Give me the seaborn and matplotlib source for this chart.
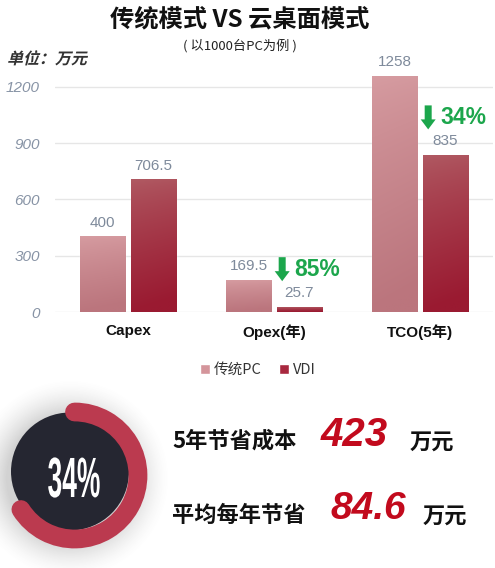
import numpy as np
import pandas as pd
import matplotlib
matplotlib.use("Agg")
import matplotlib.pyplot as plt
from matplotlib.patches import Arc, Circle, FancyArrow
from matplotlib.patheffects import AbstractPathEffect
from matplotlib.transforms import Affine2D
from matplotlib.colors import to_rgb
import seaborn as sns

# ---- data ----
categories = ["Capex", "Opex(年)", "TCO(5年)"]
series = ["传统PC", "VDI"]
pc_values = [400, 169.5, 1258]
vdi_values = [706.5, 25.7, 835]
y_ticks = [0, 300, 600, 900, 1200]
total_saving = 423        # 万元 over 5 years
yearly_saving = 84.6      # 万元 per year
tco_cut_pct = 34          # % reduction of TCO

# ---- style ----
sns.set_theme(style="white")
plt.rcParams["font.family"] = ["Liberation Sans", "Noto Sans CJK SC", "DejaVu Sans"]
CJK = ["Noto Sans CJK SC", "DejaVu Sans"]

PC_TOP, PC_BOT = "#d69ca1", "#bb757d"
VDI_TOP, VDI_BOT = "#b05962", "#9a1a31"
GREEN = "#1ca64c"
LABEL_GRAY = "#7e8a9b"
TICK_GRAY = "#8793a5"
RED = "#c20a1d"


class GlyphTransform(AbstractPathEffect):
    """Apply an affine (scale / skew) to glyph outlines about the baseline origin."""

    def __init__(self, tr):
        super().__init__()
        self.tr = tr

    def draw_path(self, renderer, gc, tpath, affine, rgbFace=None):
        renderer.draw_path(gc, tpath, self.tr + affine, rgbFace)


W, H = 495, 568
fig = plt.figure(figsize=(W / 100, H / 100), dpi=100)
fig.patch.set_facecolor("white")

ax = fig.add_axes([55 / W, 1 - 312 / H, (493 - 55) / W, (312 - 65) / H])

df = pd.DataFrame({
    "category": categories * 2,
    "series": [series[0]] * 3 + [series[1]] * 3,
    "value": pc_values + vdi_values,
})
sns.barplot(data=df, x="category", y="value", hue="series",
            palette=["#d4959b", "#a8283f"], width=0.69, gap=0.1,
            ax=ax, legend=True, saturation=1, errorbar=None)

# vertical gradient fill on each bar
def gradient_img(top, bot, n=64):
    t = np.linspace(0, 1, n)[:, None, None] ** 0.8
    xs = np.linspace(0, 1, 8)[None, :, None]
    t = np.clip(t + 0.08 * xs, 0, 1)
    a, b = np.array(to_rgb(top)), np.array(to_rgb(bot))
    return a + (b - a) * t

grads = [gradient_img(PC_TOP, PC_BOT), gradient_img(VDI_TOP, VDI_BOT)]
for cont, g in zip(ax.containers, grads):
    for rect in cont:
        x0, y0 = rect.get_x(), rect.get_y()
        w, h = rect.get_width(), rect.get_height()
        ax.imshow(g, extent=[x0, x0 + w, y0, y0 + h], aspect="auto",
                  origin="upper", interpolation="bilinear",
                  zorder=rect.get_zorder() + 0.1)
    ax.bar_label(cont, labels=[f"{v:g}" for v in cont.datavalues],
                 padding=5, fontsize=11, color=LABEL_GRAY)

ax.set_xlim(-0.5, 2.5)
ax.set_ylim(0, 1317)
ax.set_yticks(y_ticks)
ax.set_yticklabels([str(v) for v in y_ticks], fontstyle="italic",
                   color=TICK_GRAY, fontsize=11)
ax.set_xticks(range(len(categories)))
ax.set_xticklabels(categories, fontweight="bold", fontsize=11, color="#111111")
ax.tick_params(axis="y", length=0, pad=11)
ax.tick_params(axis="x", length=0, pad=9)
ax.set_xlabel("")
ax.set_ylabel("")
ax.yaxis.grid(True, color="#e6e6e6", lw=1)
ax.set_axisbelow(True)
for s in ax.spines.values():
    s.set_visible(False)
ax.patch.set_alpha(0)

# legend
handles, labels = ax.get_legend_handles_labels()
ax.legend(handles, labels, loc="center", bbox_to_anchor=(258 / W, 1 - 370 / H),
          bbox_transform=fig.transFigure, ncol=2, frameon=False,
          handlelength=0.65, handleheight=0.65, handletextpad=0.3,
          columnspacing=1.2, prop={"family": CJK, "size": 10.5})
for t in ax.get_legend().get_texts():
    t.set_color("#333333")

# ---- overlay in pixel coordinates ----
ov = fig.add_axes([0, 0, 1, 1], zorder=5)
ov.set_axis_off()
ov.patch.set_alpha(0)

def Y(y):
    return H - y

# reduction markers above the VDI bars
fig.canvas.draw()
to_px = ax.transData
for i in (1, 2):
    pc, vdi = pc_values[i], vdi_values[i]
    pct = round((1 - vdi / pc) * 100)
    rect = ax.containers[1][i]
    cx, top = to_px.transform((rect.get_x() + rect.get_width() / 2, vdi))
    yc = top + 38
    ov.add_patch(FancyArrow(cx - 17, yc + 12, 0, -24, width=7,
                            head_width=15, head_length=10,
                            length_includes_head=True, color=GREEN, lw=0))
    ov.text(cx - 5, yc, f"{pct}%", color=GREEN, fontsize=16.5,
            fontweight="bold", ha="left", va="center")

# titles
ov.text(240, Y(19), "传统模式 VS 云桌面模式", family=CJK, fontsize=17.5,
        fontweight="bold", ha="center", va="center", color="#111111")
ov.text(240, Y(46), "( 以1000台PC为例 )", family=CJK, fontsize=9.5,
        ha="center", va="center", color="#222222")
ov.text(7, Y(64), "单位：万元", family=CJK, fontsize=11.5, fontweight="bold",
        ha="left", va="baseline", color="#333333",
        path_effects=[GlyphTransform(Affine2D().skew_deg(14, 0))])

# donut badge with soft shadow
cx, cy = 72, Y(474)
n = 240
yy, xx = np.mgrid[0:n, 0:n]
d = np.hypot(xx - n / 2 + 2, yy - n / 2 - 4)
alpha = 0.30 * np.clip(1 - (d - 64) / 36, 0, 1) ** 1.6
shadow = np.zeros((n, n, 4))
shadow[..., :3] = 0.42
shadow[..., 3] = alpha
ov.imshow(shadow, extent=[cx - n / 2, cx + n / 2, cy - n / 2, cy + n / 2],
          aspect="auto", interpolation="bilinear", zorder=1)

ov.add_patch(Circle((70, Y(471.5)), 59, color="#252631", lw=0, zorder=2))
ring_frac = 1 - tco_cut_pct / 100
ov.add_patch(Arc((74.5, Y(475.5)), 127, 127, theta1=90 - ring_frac * 360,
                 theta2=90, lw=13.5, color="#bb3a4f", capstyle="round", zorder=3))
# tall, condensed badge number
ov.text(74, Y(497), f"{tco_cut_pct}%", color="white", fontsize=19,
        fontweight="bold", ha="center", va="baseline", zorder=4,
        path_effects=[GlyphTransform(Affine2D().scale(1.0, 2.15))])

# savings summary
ov.text(172, Y(441), "5年节省成本", family=CJK, fontsize=16, fontweight="bold",
        ha="left", va="center", color="#111111")
ov.text(354, Y(435), f"{total_saving:g}", fontsize=29, fontweight="bold",
        fontstyle="italic", color=RED, ha="center", va="center")
ov.text(410, Y(442), "万元", family=CJK, fontsize=16, fontweight="bold",
        ha="left", va="center", color="#111111")

ov.text(172, Y(515), "平均每年节省", family=CJK, fontsize=16, fontweight="bold",
        ha="left", va="center", color="#111111")
ov.text(368, Y(509), f"{yearly_saving:g}", fontsize=28, fontweight="bold",
        fontstyle="italic", color=RED, ha="center", va="center")
ov.text(423, Y(516), "万元", family=CJK, fontsize=16, fontweight="bold",
        ha="left", va="center", color="#111111")

ov.set_xlim(0, W)
ov.set_ylim(0, H)

fig.savefig("out.png", dpi=100)
